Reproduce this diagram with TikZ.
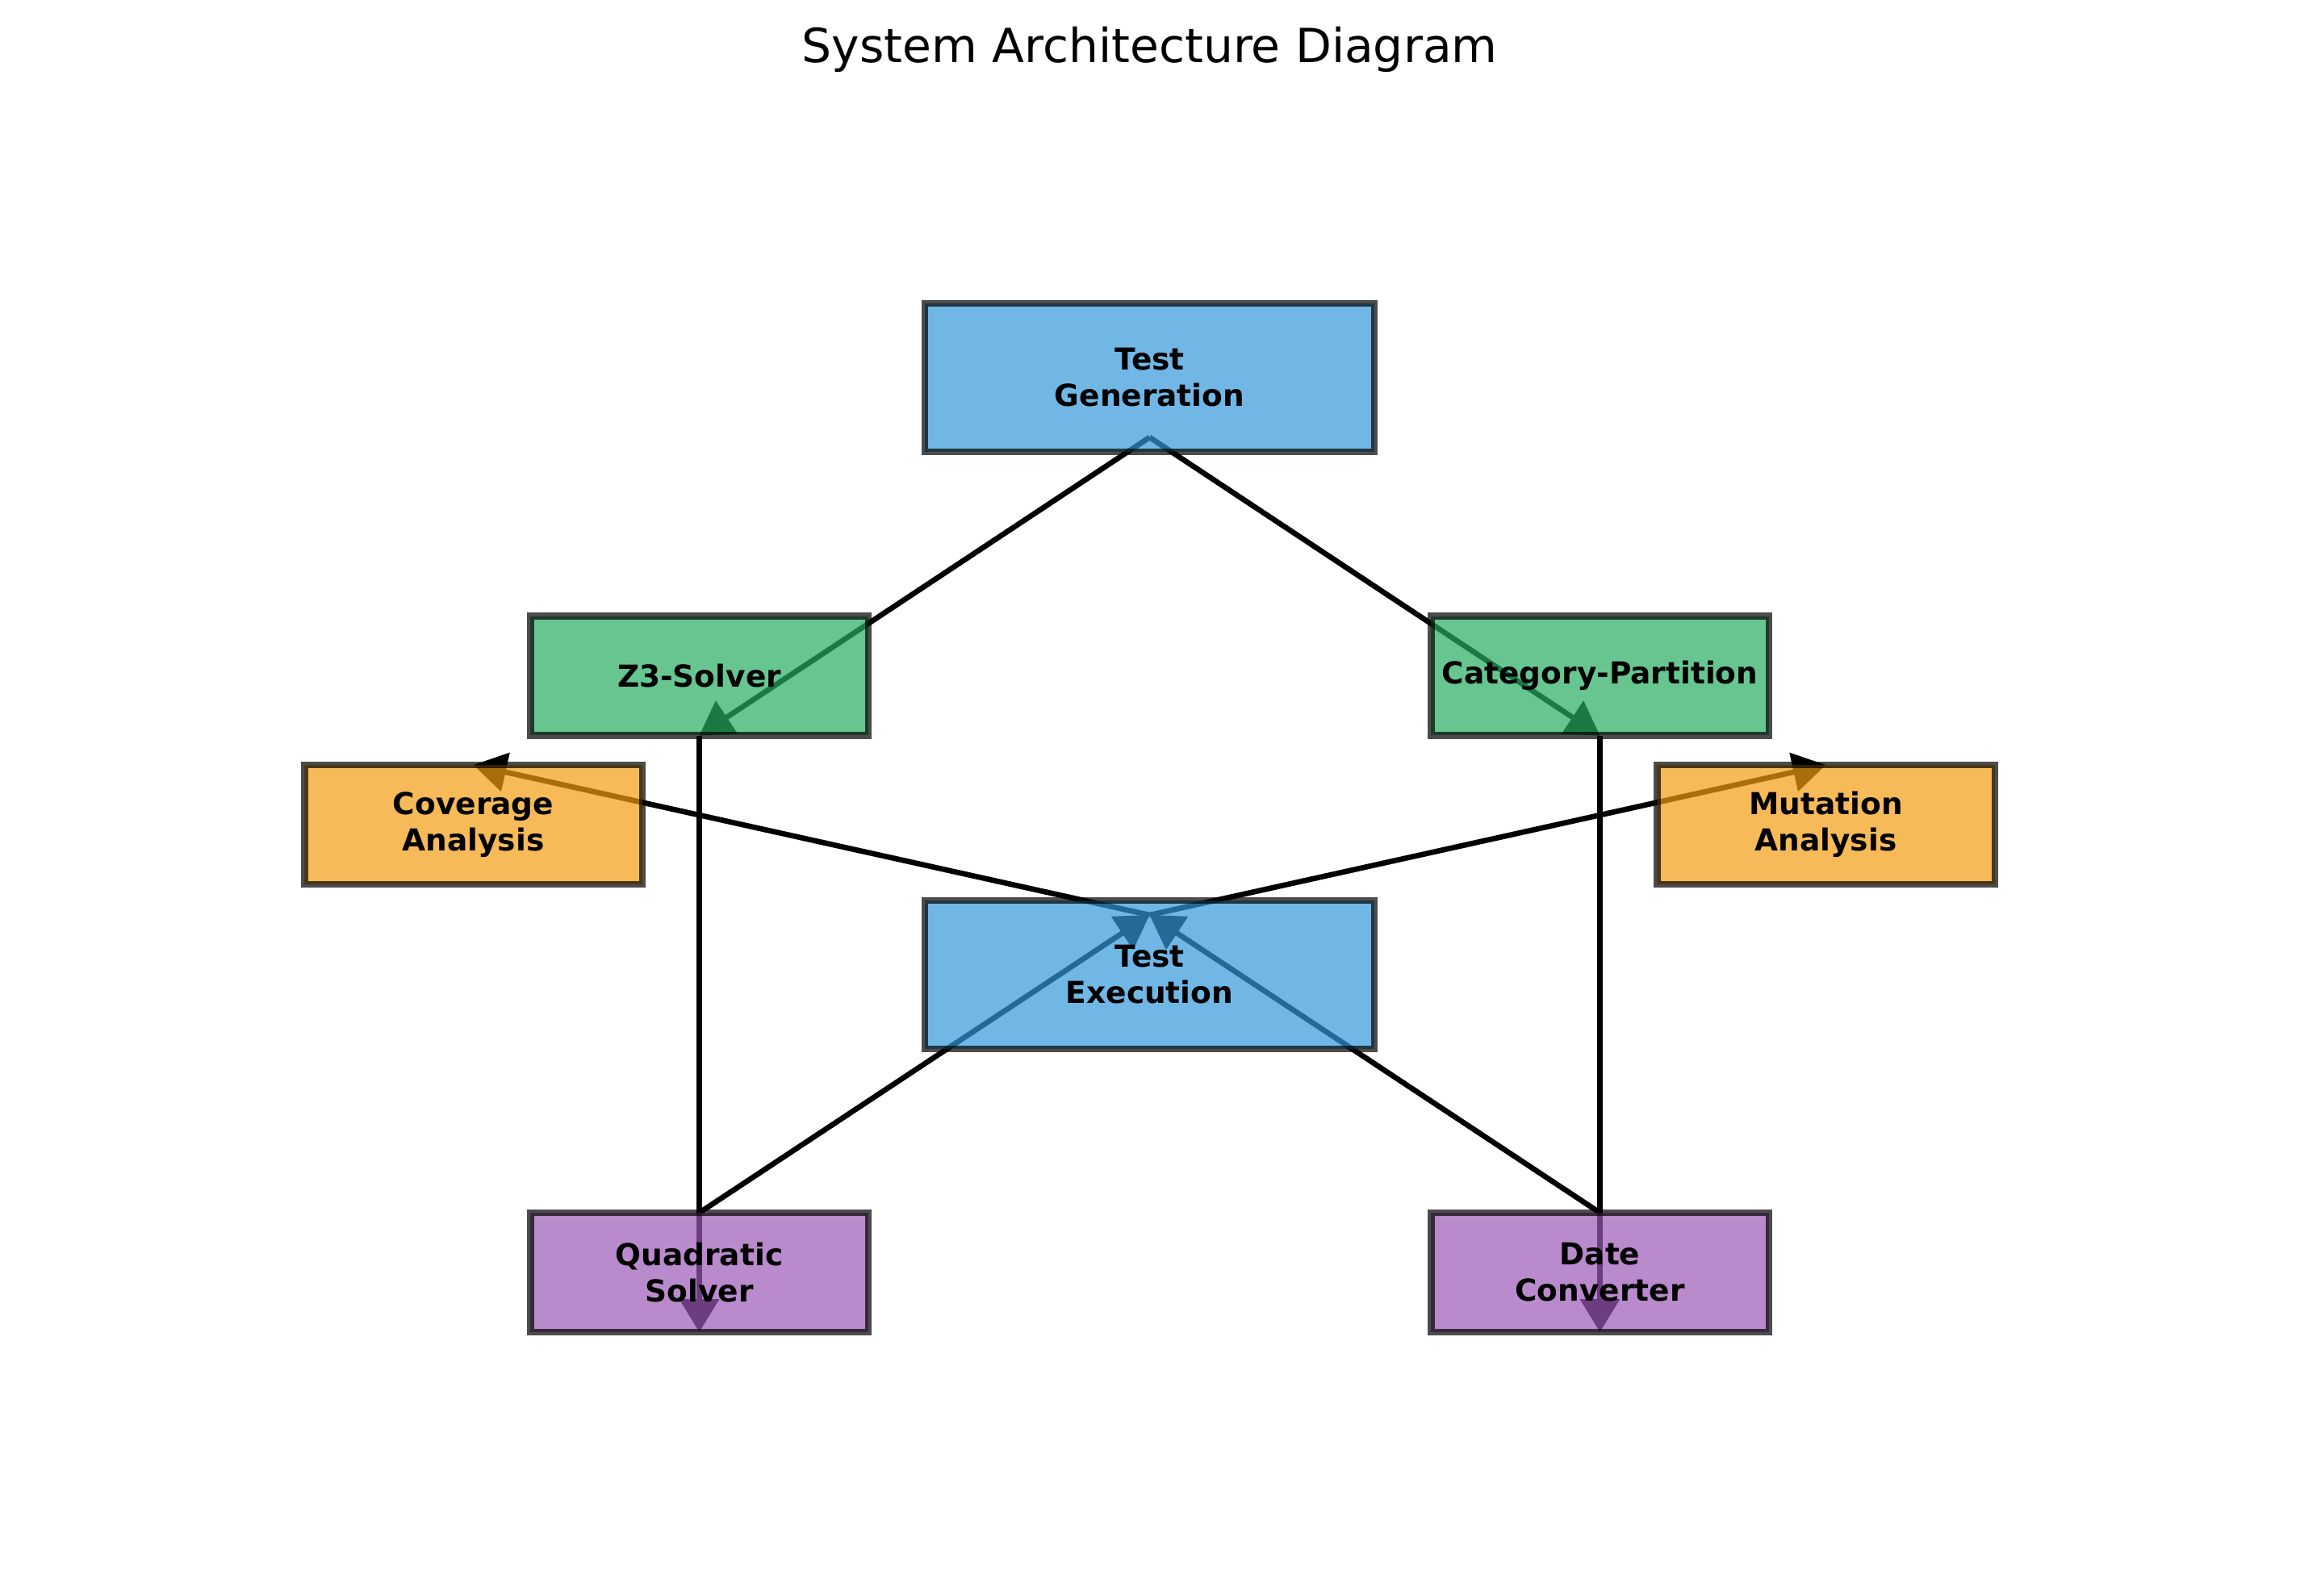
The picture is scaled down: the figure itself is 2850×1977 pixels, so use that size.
\documentclass[tikz,border=0pt]{standalone}
\usepackage{fontspec}
\setmainfont{DejaVu Sans}
\usetikzlibrary{calc,backgrounds,arrows.meta}
\definecolor{cblue}{HTML}{3498DB}
\definecolor{cgreen}{HTML}{27AE60}
\definecolor{corange}{HTML}{F39C12}
\definecolor{cpurple}{HTML}{9B59B6}
\tikzset{
  box/.style={draw=black, draw opacity=0.7, fill opacity=0.7, text opacity=1,
    line width=2pt, inner sep=0pt, align=center,
    font=\bfseries\fontsize{9}{10.8}\selectfont},
  bigbox/.style={box, minimum width=133.8pt, minimum height=44.3pt},
  smallbox/.style={box, minimum width=100.4pt, minimum height=35.5pt},
  conn/.style={line width=1.6pt, black, -{Triangle[length=9.8pt,width=11.5pt]}}
}
\begin{document}
\begin{tikzpicture}[x=0.24pt,y=-0.24pt]
\useasboundingbox (0,0) rectangle (2850,1977);
\node[anchor=base, font=\fontsize{14}{16.8}\selectfont] (title) at (1424.5,77) {System Architecture Diagram};
\node[bigbox, fill=cblue] (tg) at (1424.5,468) {Test\\Generation};
\node[smallbox, fill=cgreen] (z3) at (866.5,837.5) {Z3-Solver};
\node[smallbox, fill=cgreen] (cp) at (1982.5,837.5) {Category-Partition};
\node[smallbox, fill=corange] (cov) at (586.5,1022) {Coverage\\Analysis};
\node[smallbox, fill=corange] (mut) at (2262.5,1022) {Mutation\\Analysis};
\node[bigbox, fill=cblue] (te) at (1424.5,1208) {Test\\Execution};
\node[smallbox, fill=cpurple] (quad) at (866.5,1577) {Quadratic\\Solver};
\node[smallbox, fill=cpurple] (date) at (1982.5,1577) {Date\\Converter};
\coordinate (tgB) at ($(tg)+(0,74)$);
\coordinate (z3B) at ($(z3)+(0,74)$);
\coordinate (cpB) at ($(cp)+(0,74)$);
\coordinate (covT) at ($(cov)+(0,-74)$);
\coordinate (mutT) at ($(mut)+(0,-74)$);
\coordinate (teT) at ($(te)+(0,-74)$);
\coordinate (quadT) at ($(quad)+(0,-74)$);
\coordinate (quadB) at ($(quad)+(0,74)$);
\coordinate (dateT) at ($(date)+(0,-74)$);
\coordinate (dateB) at ($(date)+(0,74)$);
\begin{scope}[on background layer]
\draw[conn] (tgB) -- (z3B);
\draw[conn] (tgB) -- (cpB);
\draw[conn] (z3B) -- (quadB);
\draw[conn] (cpB) -- (dateB);
\draw[conn] (quadT) -- (teT);
\draw[conn] (dateT) -- (teT);
\draw[conn] (teT) -- (covT);
\draw[conn] (teT) -- (mutT);
\end{scope}
\end{tikzpicture}
\end{document}
